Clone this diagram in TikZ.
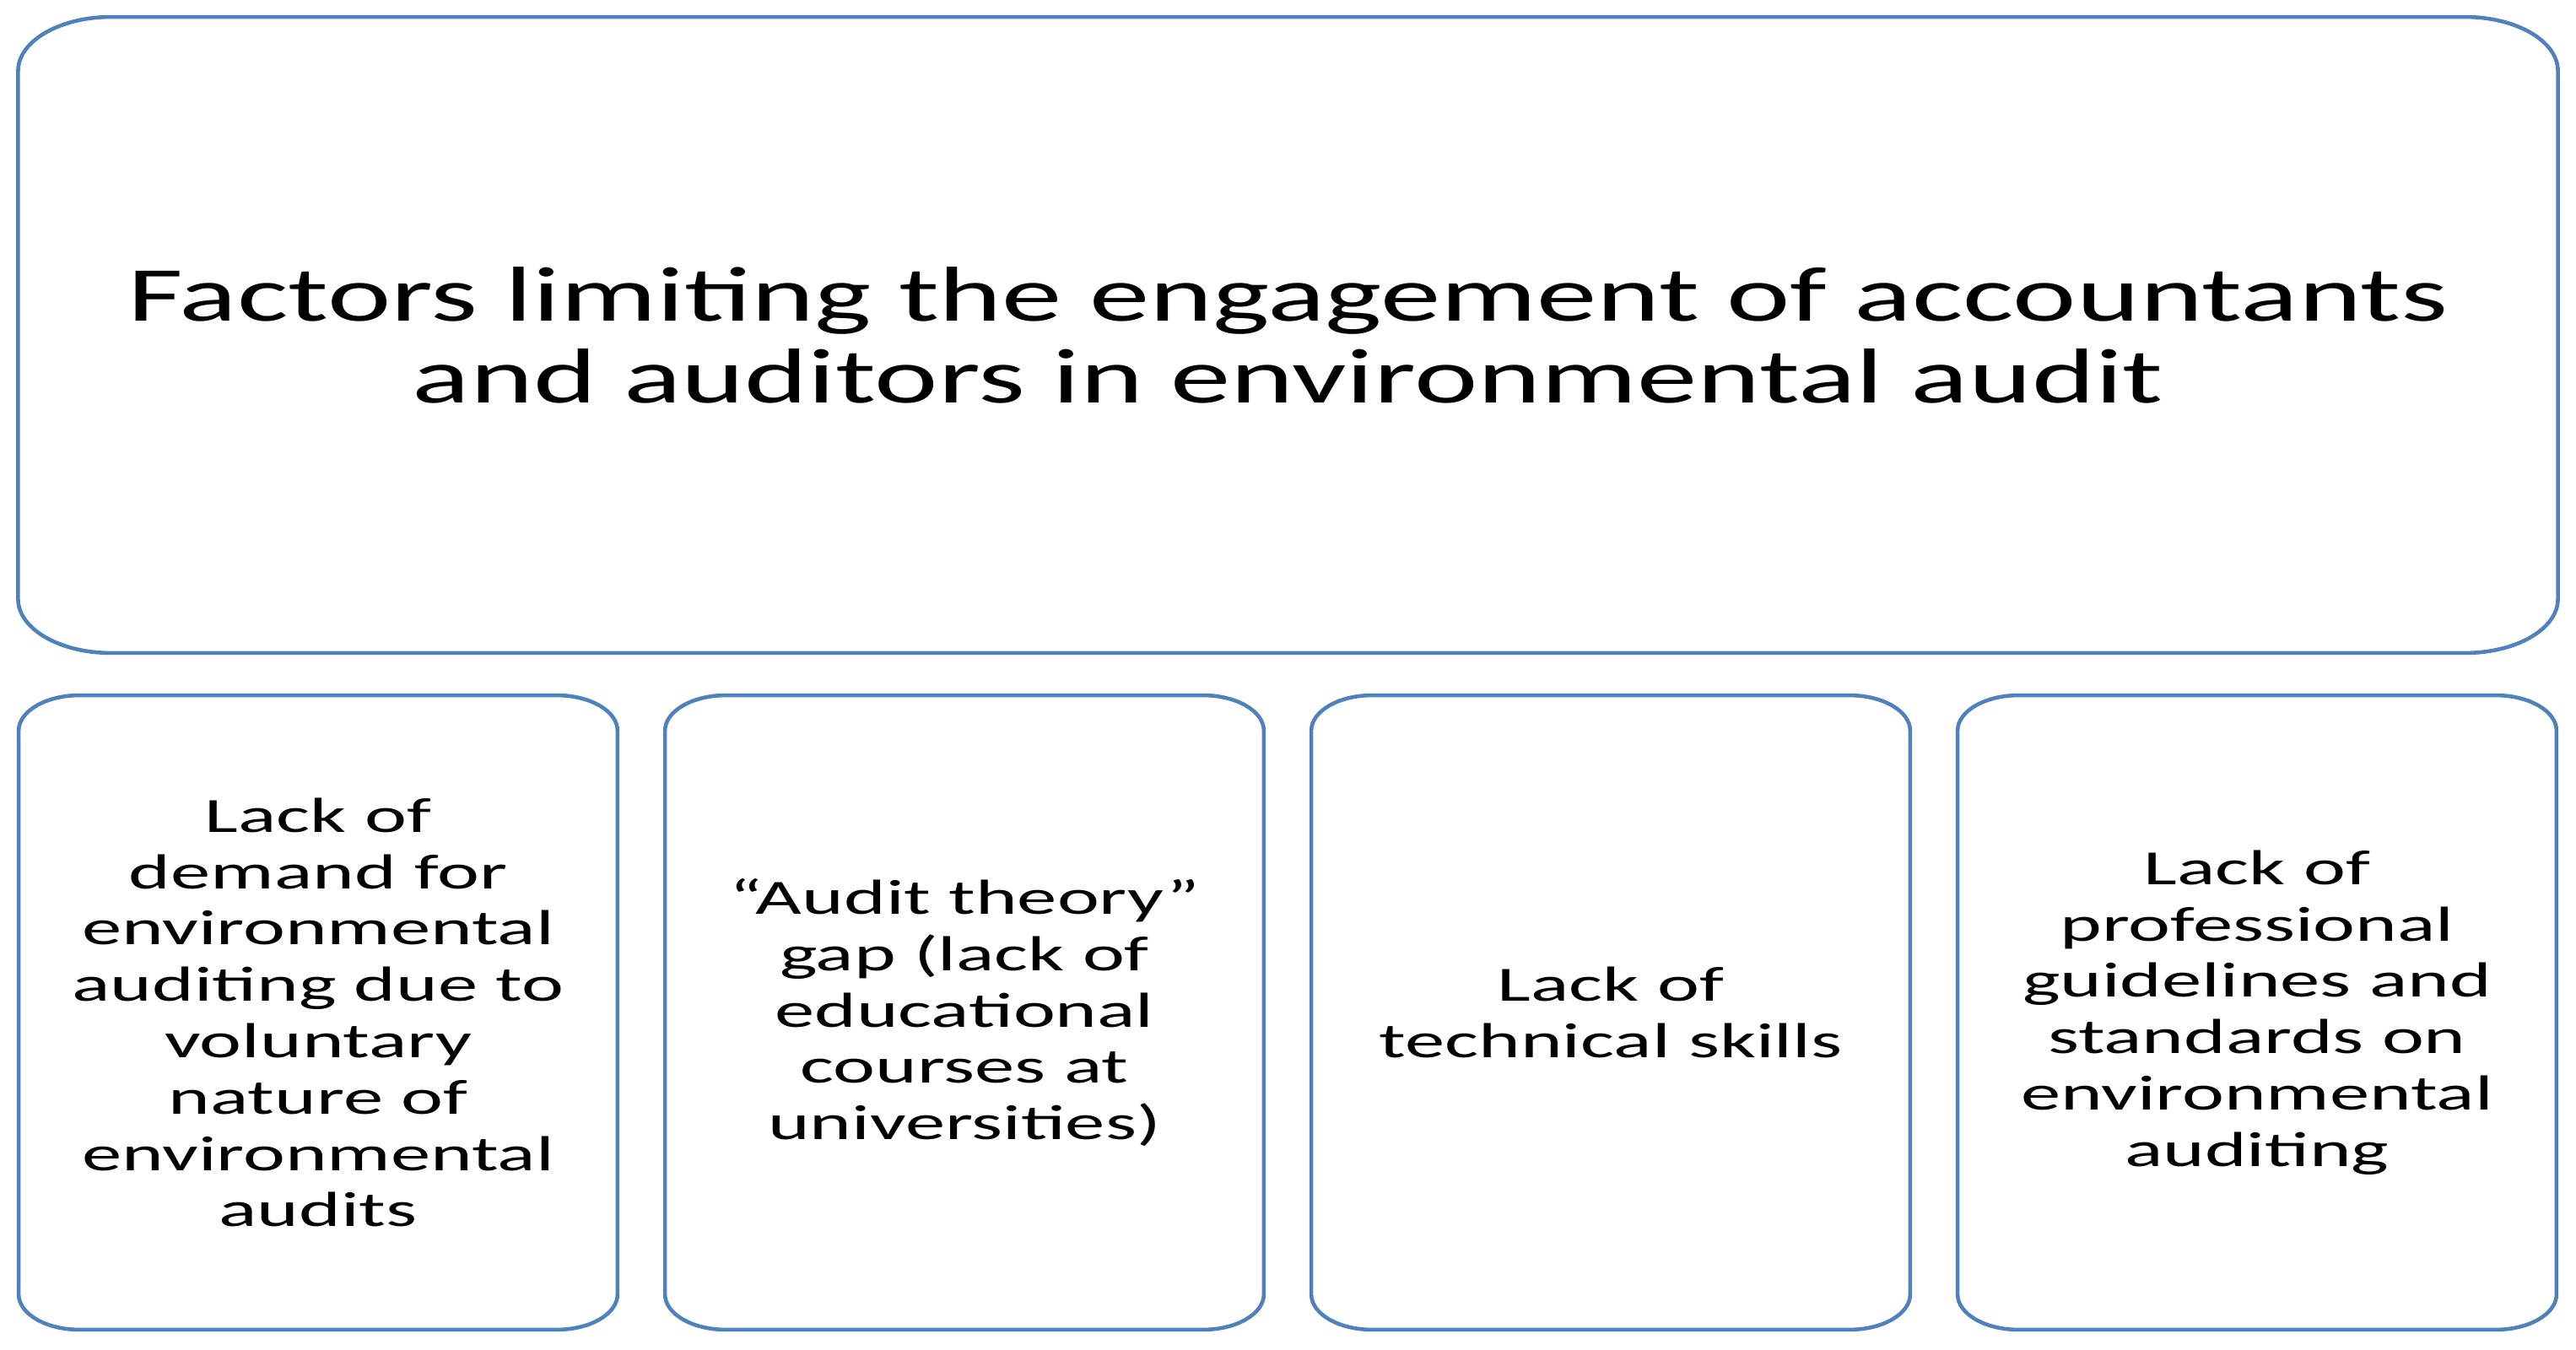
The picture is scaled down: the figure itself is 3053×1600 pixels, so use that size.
\documentclass[tikz,border=0pt]{standalone}
\usepackage{fontspec}
\setmainfont{Carlito}[FakeStretch=1.55]
\newfontfamily\boxfont{Carlito}[FakeStretch=1.62]
\definecolor{boxblue}{RGB}{79,129,189}
\newcommand\eround[3]{%
  \draw[boxline] ([xshift=#2]#1.north west) -- ([xshift=-#2]#1.north east)
    arc[start angle=90,end angle=0,x radius=#2,y radius=#3]
    -- ([yshift=#3]#1.south east)
    arc[start angle=0,end angle=-90,x radius=#2,y radius=#3]
    -- ([xshift=#2]#1.south west)
    arc[start angle=270,end angle=180,x radius=#2,y radius=#3]
    -- ([yshift=-#3]#1.north west)
    arc[start angle=180,end angle=90,x radius=#2,y radius=#3] -- cycle;}
\begin{document}
\begin{tikzpicture}[x=0.01cm,y=-0.01cm,
  boxline/.style={draw=boxblue,line width=1.3pt},
  titlebox/.style={inner sep=0pt,minimum width=30.07cm,minimum height=7.52cm,align=center,
    font=\fontsize{26.2pt}{27.6pt}\selectfont},
  factorbox/.style={inner sep=0pt,minimum width=7.08cm,minimum height=7.50cm,align=center,
    font=\boxfont\fontsize{16.6pt}{19.0pt}\selectfont}]
\useasboundingbox (0,0) rectangle (3053,1600);
\node[titlebox] (title) at (1526.5,397) {Factors limiting the engagement of accountants\\and auditors in environmental audit};
\node[factorbox] (f1) at (377,1200) {Lack of\\demand for\\environmental\\auditing due to\\voluntary\\nature of\\environmental\\audits};
\node[factorbox] (f2) at (1143,1200) {“Audit theory”\\gap (lack of\\educational\\courses at\\universities)};
\node[factorbox] (f3) at (1909,1200) {Lack of\\technical skills};
\node[factorbox] (f4) at (2675,1200) {Lack of\\professional\\guidelines and\\standards on\\environmental\\auditing};
\eround{title}{1.10cm}{0.64cm}
\eround{f1}{0.72cm}{0.42cm}
\eround{f2}{0.72cm}{0.42cm}
\eround{f3}{0.72cm}{0.42cm}
\eround{f4}{0.72cm}{0.42cm}
\end{tikzpicture}
\end{document}
